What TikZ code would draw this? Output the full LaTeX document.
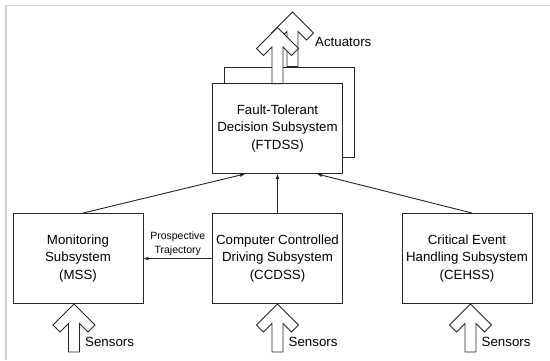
\documentclass[tikz,border=0pt]{standalone}
\usepackage{fontspec}
\setmainfont{Liberation Sans}
\usetikzlibrary{arrows.meta,calc}
\newcommand\mainsize{\fontsize{13.3pt}{17.5pt}\selectfont}
\newcommand\smallsize{\fontsize{10.5pt}{14pt}\selectfont}
\tikzset{
  box/.style={draw=black!85, line width=0.9pt, fill=white, minimum width=130pt,
    minimum height=90pt, align=center, inner sep=0pt, font=\mainsize},
  conn/.style={draw=black!85, line width=0.9pt, -{Latex[length=5pt,width=4pt]}},
  blockarrow/.style={draw=black!85, line width=0.9pt, fill=white, line join=miter},
  lbl/.style={font=\mainsize, anchor=west, inner sep=0pt}
}
\newcommand\blockarrow[2]{% tip coordinate, shaft length
  \path[blockarrow] (#1) -- ++(21,21) -- ++(-7,7) -- ++(-8.5,-8.5) -- ++(0,#2)
    -- ++(-11,0) -- ++(0,-#2) -- ++(-8.5,8.5) -- ++(-7,-7) -- cycle;}
\begin{document}
\begin{tikzpicture}[x=1pt,y=-1pt]
\useasboundingbox (0,0) rectangle (550,360);
\fill[white] (0,0) rectangle (550,360);
\draw[black!18, line width=1.3pt] (6,360) -- (6,5.5) -- (550,5.5);

% back (redundant) FTDSS box and its actuator arrow
\node[box] (ftback) at (289.5,112) {};
\coordinate (tipback) at ($(ftback.north)+(3,-54.5)$);
\blockarrow{tipback}{35}

% front FTDSS box and actuator arrow
\node[box] (ftdss) at (277.5,128.5) {Fault-Tolerant\\Decision Subsystem\\(FTDSS)};
\coordinate (tipfront) at ($(ftdss.north)+(0,-55.5)$);
\blockarrow{tipfront}{36.5}
\node[lbl] (act) at (315,42) {Actuators};

% lower subsystems
\node[box] (mss) at (78,258.5) {Monitoring\\Subsystem\\(MSS)};
\node[box] (ccdss) at (277.5,258.5) {Computer Controlled\\Driving Subsystem\\(CCDSS)};
\node[box] (cehss) at (467,258.5) {Critical Event\\Handling Subsystem\\(CEHSS)};

% connectors to FTDSS
\draw[conn] ($(mss.north)+(5,0)$) -- ($(ftdss.south)+(-32.5,0)$);
\draw[conn] (ccdss.north) -- (ftdss.south);
\draw[conn] ($(cehss.north)+(5,0)$) -- ($(ftdss.south)+(39.5,0)$);

% prospective trajectory
\draw[conn] (ccdss.west) -- (mss.east)
  node[midway, above, font=\smallsize, align=center, inner sep=2pt] (pt) {Prospective\\Trajectory};

% sensor arrows
\coordinate (s1) at ($(mss.south)+(-4,0)$);
\coordinate (s2) at ($(ccdss.south)+(0,0)$);
\coordinate (s3) at ($(cehss.south)+(3.5,0)$);
\blockarrow{s1}{28.5}
\blockarrow{s2}{28.5}
\blockarrow{s3}{28.5}
\node[lbl] (sen1) at ($(s1)+(11,38)$) {Sensors};
\node[lbl] (sen2) at ($(s2)+(11,38)$) {Sensors};
\node[lbl] (sen3) at ($(s3)+(11,38)$) {Sensors};
\end{tikzpicture}
\end{document}
